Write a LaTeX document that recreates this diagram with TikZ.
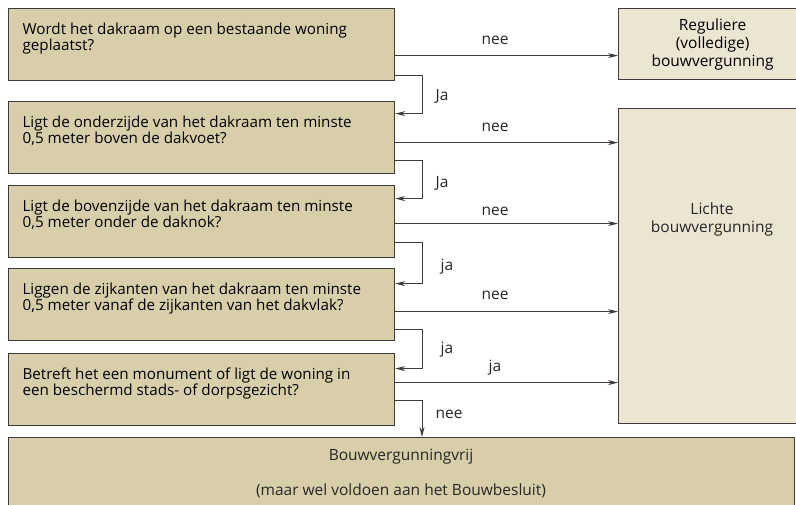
\documentclass[tikz,border=0pt]{standalone}
\usepackage{fontspec}
\setmainfont{Open Sans}
\usepackage{xcolor}
\usetikzlibrary{arrows.meta,positioning,calc}

\definecolor{tan}{HTML}{D8CFAA}
\definecolor{lighttan}{HTML}{EBE5D2}
\definecolor{edge}{HTML}{3C3C3C}

\newcommand{\qtext}[1]{\parbox[c][72pt][t]{358pt}{\vspace{14pt}\fontsize{15.2}{16.5}\selectfont#1}}

\begin{document}
\begin{tikzpicture}[
    x=1pt, y=-1pt,
    font=\fontsize{15.5}{16.5}\selectfont,
    qbox/.style={rectangle, draw=edge, line width=1.2pt, fill=tan, anchor=north west,
                 minimum width=386pt, minimum height=72pt, inner sep=0pt, align=left},
    abox/.style={rectangle, draw=edge, line width=1.2pt, fill=lighttan, anchor=north west,
                 minimum width=188pt, inner sep=0pt, align=center},
    lbl/.style={inner sep=1pt, text=black!85},
    arrow/.style={-{Stealth[length=10pt, width=5pt]}, line width=1pt, draw=edge}
]
\useasboundingbox (0,0) rectangle (796,504);

% vragen
\node[qbox] (q1) at (8,8)   {\qtext{Wordt het dakraam op een bestaande woning\\geplaatst?}};
\node[qbox] (q2) at (8,101) {\qtext{Ligt de onderzijde van het dakraam ten minste\\0,5 meter boven de dakvoet?}};
\node[qbox] (q3) at (8,185) {\qtext{Ligt de bovenzijde van het dakraam ten minste\\0,5 meter onder de daknok?}};
\node[qbox] (q4) at (8,268) {\qtext{Liggen de zijkanten van het dakraam ten minste\\0,5 meter vanaf de zijkanten van het dakvlak?}};
\node[qbox] (q5) at (8,353) {\qtext{Betreft het een monument of ligt de woning in\\een beschermd stads- of dorpsgezicht?}};

% uitkomsten
\node[abox, minimum height=71pt, font=\fontsize{15.5}{18}\selectfont] (reg) at (618,8) {Reguliere\\(volledige)\\bouwvergunning};
\node[abox, minimum height=315pt] (licht) at (618,108) {};
\node[lbl, align=center, font=\fontsize{15.5}{18}\selectfont] (lichttxt) at (712,219) {Lichte\\bouwvergunning};
\node[qbox, minimum width=786pt, minimum height=76pt] (vrij) at (8,437) {};
\node[lbl] (vrij1) at (401,457) {Bouwvergunningvrij};
\node[lbl] (vrij2) at (401,491) {(maar wel voldoen aan het Bouwbesluit)};

% aansluitpunten
\coordinate (n1) at ([yshift=-11pt]q1.east);
\coordinate (o1) at ([yshift=-31pt]q1.east);
\coordinate (i2) at ([yshift=24pt]q2.east);
\coordinate (n2) at ([yshift=-5pt]q2.east);
\coordinate (o2) at ([yshift=-23pt]q2.east);
\coordinate (i3) at ([yshift=23pt]q3.east);
\coordinate (n3) at ([yshift=-2pt]q3.east);
\coordinate (o3) at ([yshift=-21pt]q3.east);
\coordinate (i4) at ([yshift=21pt]q4.east);
\coordinate (n4) at ([yshift=-7pt]q4.east);
\coordinate (o4) at ([yshift=-25pt]q4.east);
\coordinate (i5) at ([yshift=21pt]q5.east);
\coordinate (n5) at ([yshift=7pt]q5.east);
\coordinate (o5) at ([yshift=-11pt]q5.east);
\coordinate (knik) at (422,0);

% nee / ja naar rechts
\draw[arrow] (n1) -- (n1 -| reg.west);
\foreach \n in {n2, n3, n4, n5}
    \draw[arrow] (\n) -- (\n -| licht.west);

% ja naar volgende vraag
\foreach \a/\b in {o1/i2, o2/i3, o3/i4, o4/i5}
    \draw[arrow] (\a) -| (knik |- \b) -- (\b);
\draw[arrow] (o5) -| (knik |- vrij.north);

% labels
\node[lbl] (nee1) at (495,40)  {nee};
\node[lbl] (nee2) at (495,127) {nee};
\node[lbl] (nee3) at (495,211) {nee};
\node[lbl] (nee4) at (495,295) {nee};
\node[lbl] (ja5)  at (495,368) {ja};
\node[lbl] (ja1)  at (442,96)  {Ja};
\node[lbl] (ja2)  at (442,183) {Ja};
\node[lbl] (ja3)  at (447,267) {ja};
\node[lbl] (ja4)  at (447,350) {ja};
\node[lbl] (nee5) at (449,414) {nee};
\end{tikzpicture}
\end{document}
